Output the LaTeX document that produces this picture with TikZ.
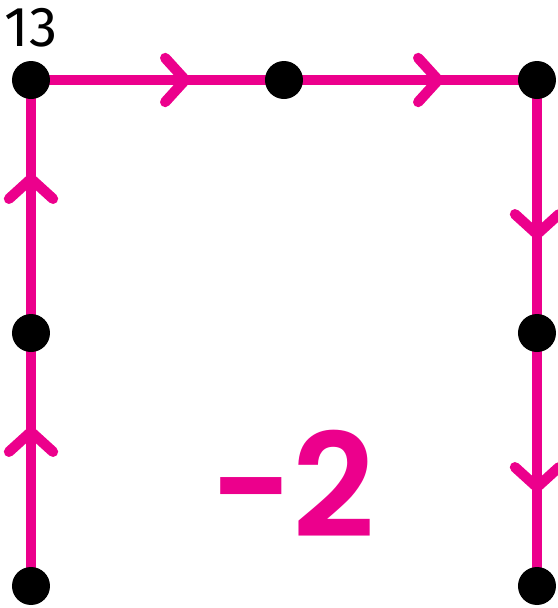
\documentclass[tikz,border=0pt]{standalone}
\usepackage{fontspec}
\setmainfont{Fira Sans}
\newfontfamily\valfont{Poppins}[BoldFont={* SemiBold}]
\usetikzlibrary{positioning,arrows.meta,decorations.markings,backgrounds}
\definecolor{pathpink}{HTML}{EC008C}
\begin{document}
\begin{tikzpicture}[every node/.style={font=\normalsize}]
  \tikzstyle{dot}=[circle,fill=black,inner sep=0pt,outer sep=0pt,minimum size=0.38cm]
  \tikzstyle{flow}=[pathpink,line width=2.95pt,postaction={decorate},
    decoration={markings,mark=at position 0.63 with {\arrow{Straight Barb[length=2mm,width=4.4mm,round]}}}]
  \useasboundingbox (-0.31,-0.22) rectangle (5.27,5.86);
  \node[dot] (bl) at (0,0) {};
  \node[dot] (ml) at (0,2.53) {};
  \node[dot] (tl) at (0,5.06) {};
  \node[dot] (tm) at (2.53,5.06) {};
  \node[dot] (tr) at (5.06,5.06) {};
  \node[dot] (mr) at (5.06,2.53) {};
  \node[dot] (br) at (5.06,0) {};
  \begin{scope}[on background layer]
    \foreach \a/\b in {bl/ml,ml/tl,tl/tm,tm/tr,tr/mr,mr/br}
      \draw[flow] (\a.center) -- (\b.center);
  \end{scope}
  \node[above=0.13cm of tl,inner sep=0pt,font=\fontsize{16}{16}\selectfont] (num) {13};
  \node[pathpink,inner sep=0pt,font=\fontsize{41}{41}\valfont\bfseries] (val) at (2.62,1.02) {−2};
\end{tikzpicture}
\end{document}
